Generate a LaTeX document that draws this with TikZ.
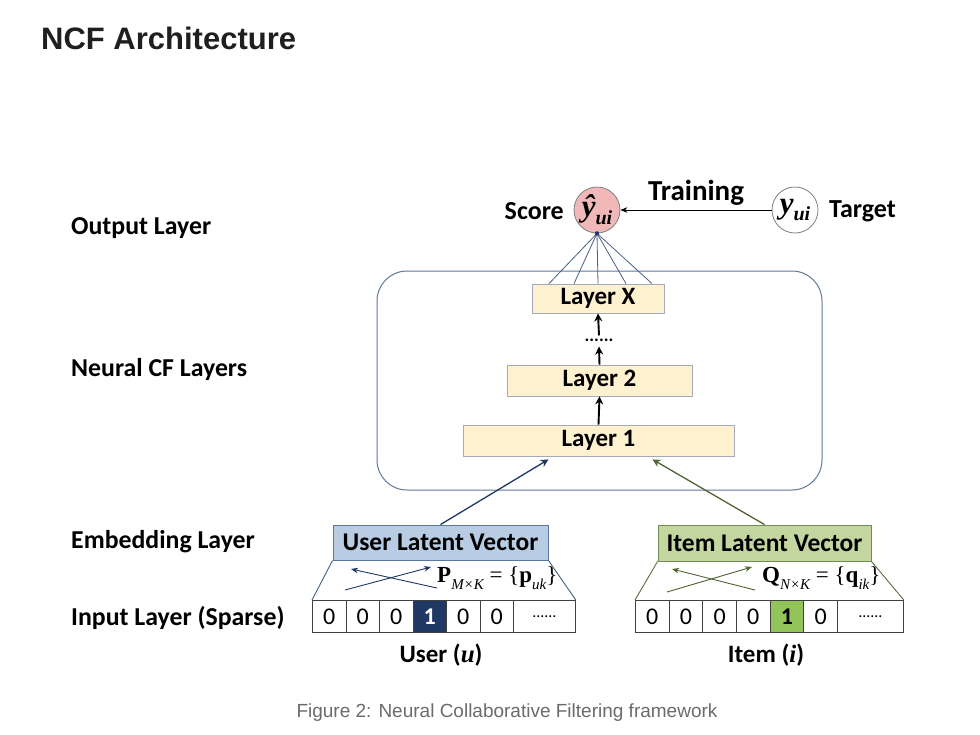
\documentclass[tikz,border=0pt]{standalone}
\usepackage{fontspec}
\setmainfont{Carlito}
\newfontfamily\titlefont{Liberation Sans}
\newfontfamily\mserif{Liberation Serif}
\usetikzlibrary{arrows.meta}
\definecolor{pinkfill}{RGB}{240,184,184}
\definecolor{circborder}{RGB}{128,128,128}
\definecolor{layerfill}{RGB}{253,241,208}
\definecolor{layerborder}{RGB}{165,170,185}
\definecolor{frameblue}{RGB}{95,120,155}
\definecolor{userfill}{RGB}{184,204,228}
\definecolor{userborder}{RGB}{90,120,160}
\definecolor{navy}{RGB}{31,56,100}
\definecolor{itemfill}{RGB}{196,214,160}
\definecolor{itemborder}{RGB}{110,140,80}
\definecolor{greencell}{RGB}{146,196,90}
\definecolor{olive}{RGB}{80,100,50}
\definecolor{captiongray}{RGB}{107,107,107}
\newcommand{\subtxt}[1]{\raisebox{-0.28em}{\fontsize{15}{16}\selectfont #1}}
\newcommand{\circsub}[1]{\raisebox{-0.25em}{\fontsize{20}{21}\selectfont #1}}
\tikzset{
  sidelabel/.style={anchor=west,font=\fontsize{25.8}{29}\selectfont\bfseries,inner sep=0},
  layerbox/.style={draw=layerborder,fill=layerfill,line width=0.8pt,inner sep=0,font=\fontsize{25}{29}\selectfont\bfseries},
  latentbox/.style={line width=0.9pt,inner sep=0,font=\fontsize{25.5}{29}\selectfont\bfseries},
  cell/.style={draw=black!75,line width=0.8pt,inner sep=0,minimum height=32,font=\fontsize{24}{28}\selectfont},
  upar/.style={-{Stealth[length=8pt,width=8pt]},line width=1.9pt},
  thinar/.style={-{Stealth[length=7pt,width=5.5pt]},line width=0.9pt},
  circ/.style={circle,draw=circborder,line width=0.8pt,minimum size=46,inner sep=0,font=\mserif\bfseries\itshape\fontsize{31}{32}\selectfont},
}
\begin{document}
\begin{tikzpicture}[x=1pt,y=-1pt]
\useasboundingbox (0,0) rectangle (980,734);
\fill[white] (0,0) rectangle (980,734);
% title and caption
\node[anchor=west,inner sep=0,font=\titlefont\fontsize{31}{36}\selectfont\bfseries,text=black!88] (title) at (41,38) {NCF Architecture};
\node[inner sep=0,font=\titlefont\fontsize{19}{22}\selectfont,text=captiongray] (caption) at (507,713) {Figure 2: Neural Collaborative Filtering framework};
% side labels
\node[sidelabel] (lout) at (71,228) {Output Layer};
\node[sidelabel] (lncf) at (71,369) {Neural CF Layers};
\node[sidelabel] (lemb) at (71,542) {Embedding Layer};
\node[sidelabel] (linp) at (71,618) {Input Layer (Sparse)};
% frame
\draw[frameblue,line width=1pt,rounded corners=30] (377,271) rectangle (822,490);
% layers
\node[layerbox,minimum width=132,minimum height=29] (lx) at (598,298.5) {Layer X};
\node[layerbox,minimum width=185,minimum height=31] (l2) at (599.5,380.5) {Layer 2};
\node[layerbox,minimum width=271,minimum height=31] (l1) at (598.5,440.5) {Layer 1};
\node[inner sep=0,font=\fontsize{18}{20}\selectfont\bfseries] (dots) at (599,340) {......};
\draw[upar] (l1.north) -- (l2.south);
\draw[upar] (l2.north) -- ([yshift=-5pt]dots.south);
\draw[upar] ([yshift=3pt]dots.north) -- (lx.south);
% output
\node[circ,fill=pinkfill] (score) at (597,210) {ŷ\circsub{ui}};
\node[circ,fill=white] (target) at (795,210) {y\circsub{ui}};
\node[anchor=east,inner sep=0,font=\fontsize{26}{30}\selectfont\bfseries] (scorel) at (564,211) {Score};
\node[anchor=west,inner sep=0,font=\fontsize{26}{30}\selectfont\bfseries] (targetl) at (829,211) {Target};
\draw[thinar] (target.west) -- (score.east) node[midway,above=4pt,inner sep=0,font=\fontsize{29}{32}\selectfont\bfseries] (train) {Training};
\foreach \dx in {-49,-24,0,28,54}{
  \draw[navy!80,line width=0.8pt] (score.south) -- ([xshift=\dx pt]lx.north);
}
\fill[navy] (score.south) circle (2.2);
% latent boxes
\node[latentbox,draw=userborder,fill=userfill,minimum width=215,minimum height=35] (ub) at (440.5,542.5) {User Latent Vector};
\node[latentbox,draw=itemborder,fill=itemfill,minimum width=213,minimum height=36] (ib) at (764.5,543) {Item Latent Vector};
\draw[upar,navy,line width=1.3pt] (ub.north) -- ([xshift=-50pt,yshift=-3pt]l1.south);
\draw[upar,olive,line width=1.3pt] (ib.north) -- ([xshift=54pt,yshift=-3pt]l1.south);
% user cells
\foreach \i/\t in {1/0,2/0,3/0,5/0,6/0}{
  \node[cell,minimum width=33.5,anchor=north west] (uc\i) at ({312+(\i-1)*33.5},600) {\t};
}
\node[cell,minimum width=33.5,anchor=north west,fill=navy,text=white,font=\fontsize{24}{28}\selectfont\bfseries] (uc4) at ({312+3*33.5},600) {1};
\node[cell,minimum width=62,anchor=north west,font=\fontsize{16}{18}\selectfont] (uc7) at (513,600) {......};
\draw[userborder!80!black,line width=0.9pt] (ub.south west) -- (uc1.north west);
\draw[userborder!80!black,line width=0.9pt] (ub.south east) -- (uc7.north east);
\coordinate (ua1) at (345,590); \coordinate (ua2) at (431,567);
\coordinate (ub1) at (437,588); \coordinate (ub2) at (351,569);
\draw[thinar,navy] (ua1) -- (ua2);
\draw[thinar,navy] (ub1) -- (ub2);
\node[anchor=west,inner sep=0,font=\mserif\fontsize{23}{26}\selectfont] (uform) at (437,578) {\textbf{P}\subtxt{\itshape M×K} = \{\textbf{p}\subtxt{\itshape uk}\}};
\node[inner sep=0,font=\fontsize{25}{29}\selectfont\bfseries] (ulab) at (441,655) {User ({\mserif\itshape u})};
% item cells
\foreach \i/\t in {1/0,2/0,3/0,4/0,6/0}{
  \node[cell,minimum width=33.67,anchor=north west] (ic\i) at ({635+(\i-1)*33.67},600) {\t};
}
\node[cell,minimum width=33.67,anchor=north west,fill=greencell,font=\fontsize{24}{28}\selectfont\bfseries] (ic5) at ({635+4*33.67},600) {1};
\node[cell,minimum width=66,anchor=north west,font=\fontsize{16}{18}\selectfont] (ic7) at (837,600) {......};
\draw[itemborder!80!black,line width=0.9pt] (ib.south west) -- (ic1.north west);
\draw[itemborder!80!black,line width=0.9pt] (ib.south east) -- (ic7.north east);
\coordinate (ia1) at (667,592); \coordinate (ia2) at (752,567);
\coordinate (ib1) at (755,590); \coordinate (ib2) at (672,569);
\draw[thinar,olive] (ia1) -- (ia2);
\draw[thinar,olive] (ib1) -- (ib2);
\node[anchor=west,inner sep=0,font=\mserif\fontsize{23}{26}\selectfont] (iform) at (762,578) {\textbf{Q}\subtxt{\itshape N×K} = \{\textbf{q}\subtxt{\itshape ik}\}};
\node[inner sep=0,font=\fontsize{25}{29}\selectfont\bfseries] (ilab) at (766,655) {Item ({\mserif\itshape i})};
\end{tikzpicture}
\end{document}
